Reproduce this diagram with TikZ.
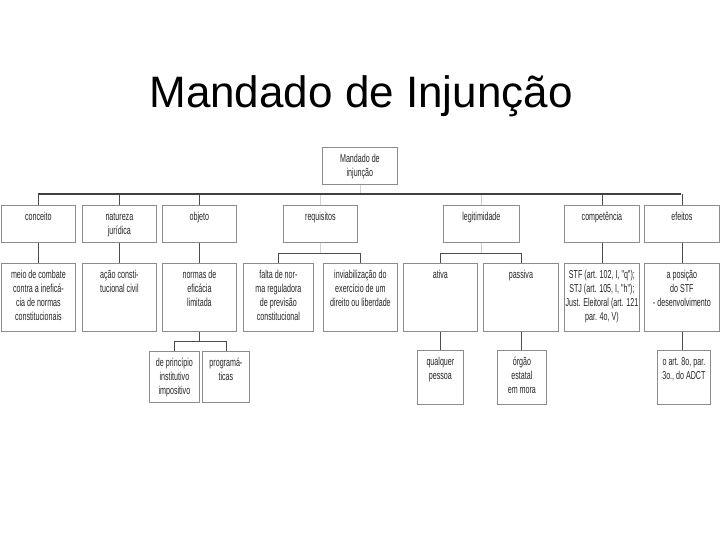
\documentclass[tikz,border=0pt]{standalone}
\usepackage{fontspec}
\newfontfamily\titlefont{Liberation Sans}
\newfontfamily\bxfont[FakeStretch=0.62]{Liberation Sans}
\newcommand\bxt[3]{\parbox[t][#2pt][t]{#1pt}{\centering\rule{0pt}{15.5pt}#3}}
\begin{document}
\begin{tikzpicture}[x=1pt,y=-1pt,
  bx/.style={draw=black!45, line width=0.8pt, fill=white, inner sep=0pt, anchor=north west,
    font=\bxfont\fontsize{11.5}{14}\selectfont, text=black!85},
  con/.style={draw=black!70, line width=0.8pt},
  faint/.style={draw=black!18, line width=0.8pt},
  busline/.style={draw=black!75, line width=2pt}]
\useasboundingbox[fill=white] (0,0) rectangle (720,540);
\node[font=\titlefont\fontsize{44}{50}\selectfont, anchor=base] (title) at (361,108) {Mandado de Injunção};
% root
\node[bx] (root) at (322,147) {\bxt{75}{37}{Mandado de\\injunção}};
% level 1
\node[bx] (conceito) at (1,205) {\bxt{74}{37}{conceito}};
\node[bx] (natureza) at (82,205) {\bxt{74}{37}{natureza\\jurídica}};
\node[bx] (objeto) at (162,205) {\bxt{74}{37}{objeto}};
\node[bx] (requisitos) at (283,205) {\bxt{74}{37}{requisitos}};
\node[bx] (legit) at (443,205) {\bxt{76}{37}{legitimidade}};
\node[bx] (compet) at (564,205) {\bxt{75}{37}{competência}};
\node[bx] (efeitos) at (644,205) {\bxt{75}{37}{efeitos}};
% level 2
\node[bx] (meio) at (1,263) {\bxt{74}{68}{meio de combate\\contra a ineficá-\\cia de normas\\constitucionais}};
\node[bx] (acao) at (82,263) {\bxt{74}{68}{ação consti-\\tucional civil}};
\node[bx] (normas) at (162,263) {\bxt{74}{68}{normas de\\eficácia\\limitada}};
\node[bx] (falta) at (243,263) {\bxt{70}{68}{falta de nor-\\ma reguladora\\de previsão\\constitucional}};
\node[bx] (inviab) at (323,263) {\bxt{74}{68}{inviabilização do\\exercício de um\\direito ou liberdade}};
\node[bx] (ativa) at (403,263) {\bxt{74}{68}{ativa}};
\node[bx] (passiva) at (483,263) {\bxt{75}{68}{passiva}};
\node[bx] (stf) at (564,263) {\bxt{75}{68}{STF (art. 102, I, "q");\\STJ (art. 105, I, "h");\\Just. Eleitoral (art. 121\\par. 4o, V)}};
\node[bx] (posicao) at (644,263) {\bxt{75}{68}{a posição\\do STF\\- desenvolvimento}};
% level 3
\node[bx] (principio) at (149,351) {\bxt{50}{51}{de princípio\\institutivo\\impositivo}};
\node[bx] (program) at (202,351) {\bxt{47}{51}{programá-\\ticas}};
\node[bx] (qualquer) at (417,350) {\bxt{46}{54}{qualquer\\pessoa}};
\node[bx] (orgao) at (497,350) {\bxt{49}{54}{órgão\\estatal\\em mora}};
\node[bx] (art) at (657,350) {\bxt{53}{54}{o art. 8o, par.\\3o., do ADCT}};
% bus
\coordinate (busL) at (38,194);
\coordinate (busR) at (681,194);
\draw[faint] (root.south) -- (root.south |- busL);
\draw[con] (conceito.north) -- (conceito.north |- busL);
\draw[con] (natureza.north) -- (natureza.north |- busL);
\draw[con] (objeto.north) -- (objeto.north |- busL);
\draw[faint] (requisitos.north) -- (requisitos.north |- busL);
\draw[faint] (legit.north) -- (legit.north |- busL);
\draw[con] (compet.north) -- (compet.north |- busL);
\draw[con] (efeitos.north) -- (efeitos.north |- busL);
\draw[busline] (busL) -- (busR);
% level1 -> level2
\draw[con] (conceito.south) -- (meio.north);
\draw[con] (natureza.south) -- (acao.north);
\draw[con] (objeto.south) -- (normas.north);
\draw[con] (compet.south) -- (stf.north);
\draw[con] (efeitos.south) -- (posicao.north);
\coordinate (rq) at (320,253);
\draw[faint] (requisitos.south) -- (requisitos.south |- rq);
\draw[con] (falta.north) -- (falta.north |- rq) -- (inviab.north |- rq) -- (inviab.north);
\draw[faint] (legit.south) -- (legit.south |- rq);
\draw[con] (ativa.north) -- (ativa.north |- rq) -- (passiva.north |- rq) -- (passiva.north);
% level2 -> level3
\coordinate (ob) at (199,341);
\draw[con] (normas.south) -- (normas.south |- ob);
\draw[con] (principio.north) -- (principio.north |- ob) -- (program.north |- ob) -- (program.north);
\draw[con] (ativa.south) -- (qualquer.north);
\draw[con] (passiva.south) -- (passiva.south |- orgao.north);
\draw[con] (posicao.south) -- (posicao.south |- art.north);
\end{tikzpicture}
\end{document}
